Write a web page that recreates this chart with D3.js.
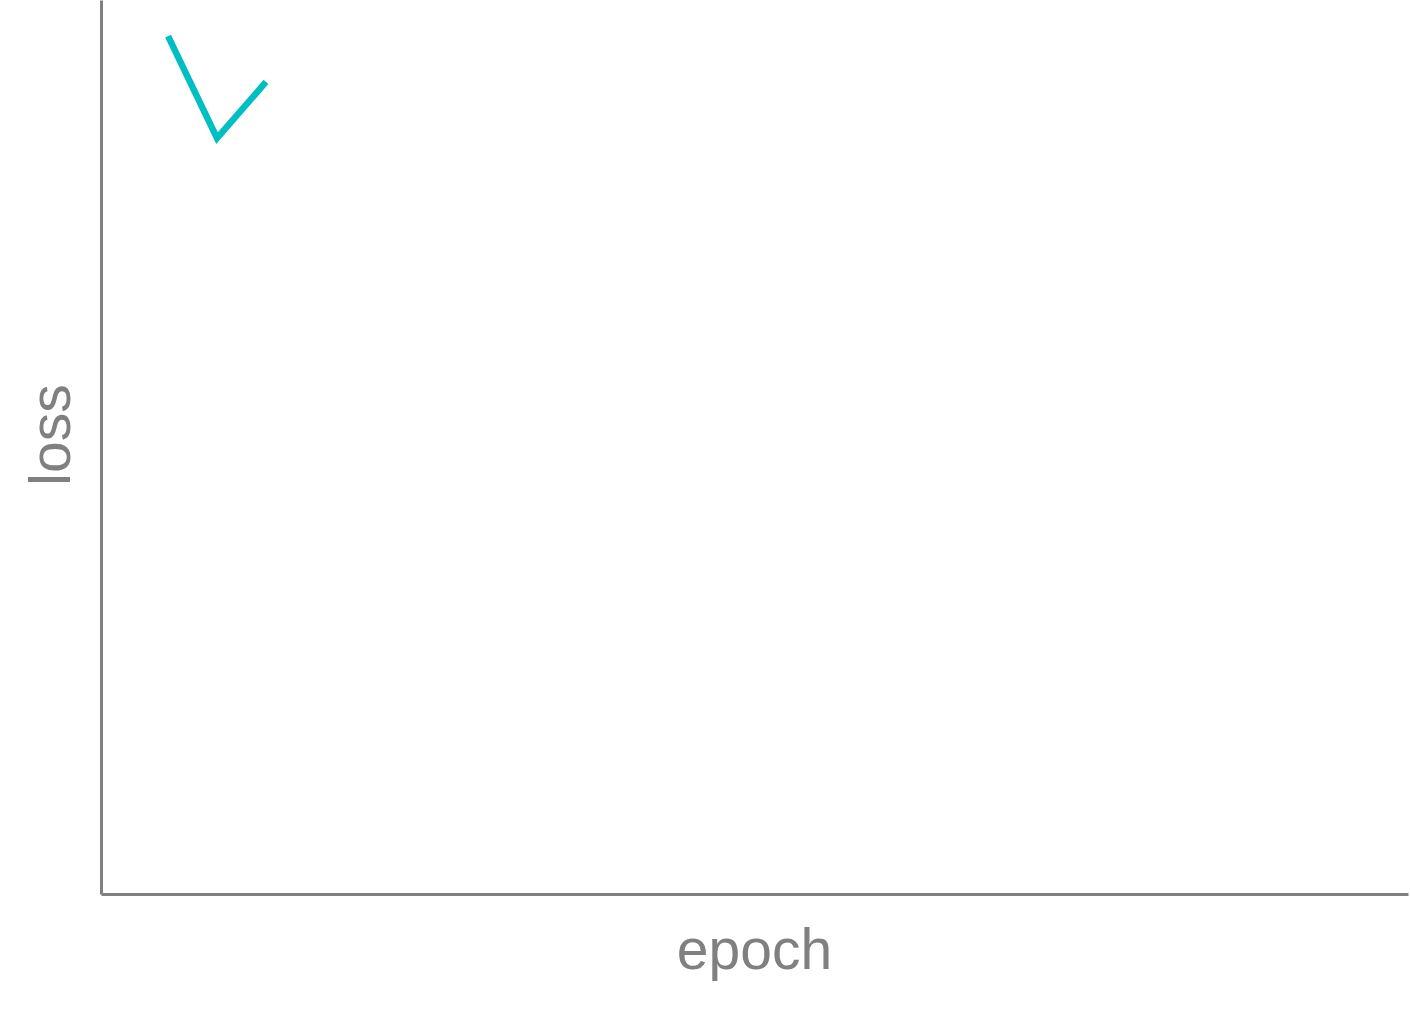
<!DOCTYPE html>
<html><head><meta charset="utf-8">
<script src="https://cdn.jsdelivr.net/npm/d3@7"></script>
<style>html,body{margin:0;padding:0;background:#fff;}</style>
</head><body>
<script>
const epochs = [1, 2, 3];
const loss = [2.303, 2.029, 2.180];
const xDomain = [-0.37, 26.33];
const yDomain = [0, 2.4];

const W = 1410, H = 1016;
const m = {left: 101, right: 2, top: 0, bottom: 122};
const svg = d3.select("body").append("svg").attr("width", W).attr("height", H);
const x = d3.scaleLinear().domain(xDomain).range([m.left, W - m.right]);
const y = d3.scaleLinear().domain(yDomain).range([H - m.bottom, m.top]);

const gx = svg.append("g").attr("transform", `translate(0,${H - m.bottom})`)
  .call(d3.axisBottom(x).ticks(0).tickSize(0).tickSizeOuter(0));
const gy = svg.append("g").attr("transform", `translate(${m.left},0)`)
  .call(d3.axisLeft(y).ticks(0).tickSize(0).tickSizeOuter(0));
svg.selectAll(".domain").attr("stroke", "#808080").attr("stroke-width", 3);
svg.selectAll(".tick").remove();

const data = epochs.map((e, i) => ({e, v: loss[i]}));
svg.append("path").datum(data)
  .attr("fill", "none").attr("stroke", "#00BFC4").attr("stroke-width", 6.5)
  .attr("d", d3.line().x(d => x(d.e)).y(d => y(d.v)));

svg.append("text").attr("x", (m.left + W - m.right) / 2).attr("y", 969)
  .attr("text-anchor", "middle").attr("fill", "#808080")
  .style("font-family", "Liberation Sans, Arial, sans-serif").style("font-size", "57px")
  .text("epoch");
svg.append("text").attr("transform", `translate(70,${435}) rotate(-90)`)
  .attr("text-anchor", "middle").attr("fill", "#808080")
  .style("font-family", "Liberation Sans, Arial, sans-serif").style("font-size", "57px")
  .text("loss");
</script>
</body></html>
